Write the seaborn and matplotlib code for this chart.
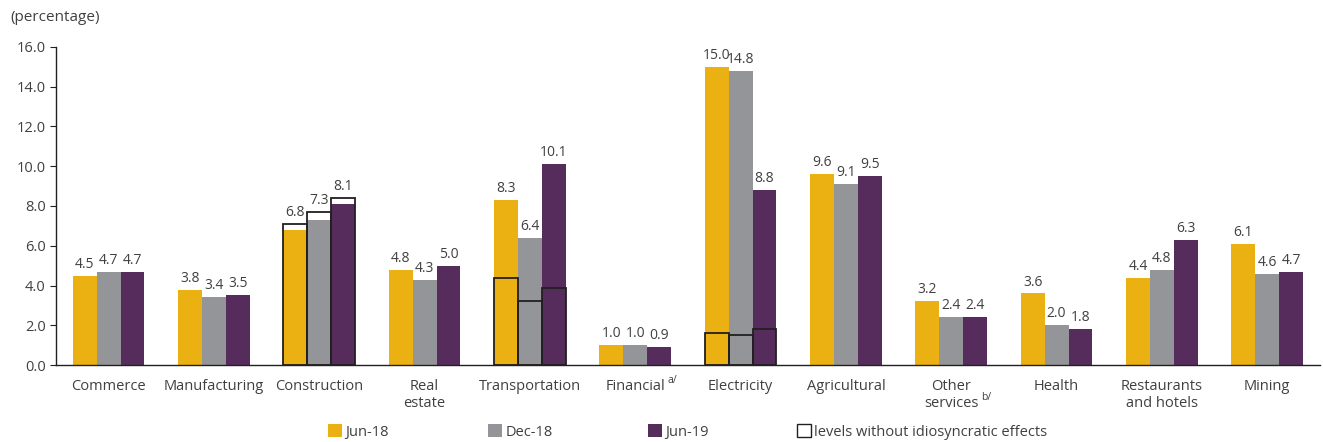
import matplotlib
matplotlib.use("Agg")
import matplotlib.pyplot as plt
from matplotlib.patches import Patch
import seaborn as sns
import pandas as pd

# Sector categories (x axis)
sectors = ["Commerce", "Manufacturing", "Construction", "Real\nestate", "Transportation",
           "Financial", "Electricity", "Agricultural", "Other\nservices", "Health",
           "Restaurants\nand hotels", "Mining"]
# Footnote markers attached to some sector names
footnotes = {"Financial": "a/", "Other\nservices": "b/"}
periods = ["Jun-18", "Dec-18", "Jun-19"]

# Non-performing loan ratio by sector, per period
jun18 = [4.5, 3.8, 6.8, 4.8, 8.3, 1.0, 15.0, 9.6, 3.2, 3.6, 4.4, 6.1]
dec18 = [4.7, 3.4, 7.3, 4.3, 6.4, 1.0, 14.8, 9.1, 2.4, 2.0, 4.8, 4.6]
jun19 = [4.7, 3.5, 8.1, 5.0, 10.1, 0.9, 8.8, 9.5, 2.4, 1.8, 6.3, 4.7]

# Levels without idiosyncratic effects (only for a few sectors)
adj_sectors = ["Construction", "Transportation", "Electricity"]
adj_jun18 = [7.1, 4.4, 1.6]
adj_dec18 = [7.7, 3.2, 1.5]
adj_jun19 = [8.4, 3.9, 1.8]

colors = ["#EBB012", "#939598", "#562C5C"]
text_color = "#404040"
line_color = "#231F20"

sns.set_theme(style="white")
plt.rcParams["font.family"] = ["Open Sans", "DejaVu Sans"]

df = pd.DataFrame({
    "sector": sectors * 3,
    "period": [p for p in periods for _ in sectors],
    "value": jun18 + dec18 + jun19,
})
df_adj = pd.DataFrame({
    "sector": adj_sectors * 3,
    "period": [p for p in periods for _ in adj_sectors],
    "value": adj_jun18 + adj_dec18 + adj_jun19,
})

fig = plt.figure(figsize=(13.23, 4.42), dpi=100)
ax = fig.add_axes([0.0423, 0.174, 0.9554, 0.72])

sns.barplot(data=df, x="sector", y="value", hue="period", order=sectors, hue_order=periods,
            palette=colors, width=0.68, linewidth=0, saturation=1, errorbar=None,
            legend=False, ax=ax)
n_main = len(ax.patches)
sns.barplot(data=df_adj, x="sector", y="value", hue="period", order=sectors, hue_order=periods,
            palette=[line_color] * 3, width=0.68, fill=False, linewidth=1.3, errorbar=None,
            legend=False, ax=ax)

# Value labels sit above the taller of the bar and its adjusted-level box
tops = {}
for p in ax.patches:
    key = round(p.get_x() + p.get_width() / 2, 3)
    tops[key] = max(tops.get(key, 0), p.get_height())
for p in ax.patches[:n_main]:
    cx = p.get_x() + p.get_width() / 2
    ax.text(cx, tops[round(cx, 3)] + 0.2, f"{p.get_height():.1f}", ha="center", va="bottom",
            fontsize=10, color=text_color)

ax.set_ylim(0, 16)
ax.set_xlim(-0.5, len(sectors) - 0.5)
ax.set_yticks(range(0, 17, 2))
ax.set_yticklabels([f"{v:.1f}" for v in range(0, 17, 2)])
ax.set_xlabel("")
ax.set_ylabel("")
ax.set_xticks([i + 0.5 for i in range(len(sectors) - 1)], minor=True)
ax.tick_params(axis="x", which="major", length=0, labelsize=10.5, labelcolor=text_color, pad=10)
ax.tick_params(axis="x", which="minor", direction="in", length=5, width=0.8, color=line_color)
ax.tick_params(axis="y", which="major", direction="out", length=4, width=0.8, color=line_color,
               labelsize=10.5, labelcolor=text_color, left=True)
for s in ["top", "right"]:
    ax.spines[s].set_visible(False)
for s in ["left", "bottom"]:
    ax.spines[s].set_color(line_color)
    ax.spines[s].set_linewidth(1.0)

# Superscript footnote markers after the last line of the tick label
fig.canvas.draw()
for lbl in ax.get_xticklabels():
    mark = footnotes.get(lbl.get_text())
    if mark:
        ax.annotate(mark, xy=(1, 0), xycoords=lbl, xytext=(2, 6), textcoords="offset points",
                    fontsize=7.5, color=text_color, ha="left", va="bottom")

fig.text(0.008, 0.96, "(percentage)", fontsize=11, color=text_color, ha="left", va="center")

# Legend entries placed along the bottom
handles = [Patch(facecolor=c, edgecolor="none") for c in colors]
handles.append(Patch(facecolor="white", edgecolor=line_color, linewidth=1))
labels = periods + ["levels without idiosyncratic effects"]
legend_x = [322, 482, 642, 791]
for h, l, x in zip(handles, labels, legend_x):
    leg = fig.legend([h], [l], loc="center left", bbox_to_anchor=(x / 1323, 0.023),
                     frameon=False, handlelength=1.0, handleheight=1.0, handletextpad=0.2,
                     borderaxespad=0, borderpad=0.4, fontsize=10.5, labelcolor=text_color)

fig.savefig("out.png", dpi=100)
